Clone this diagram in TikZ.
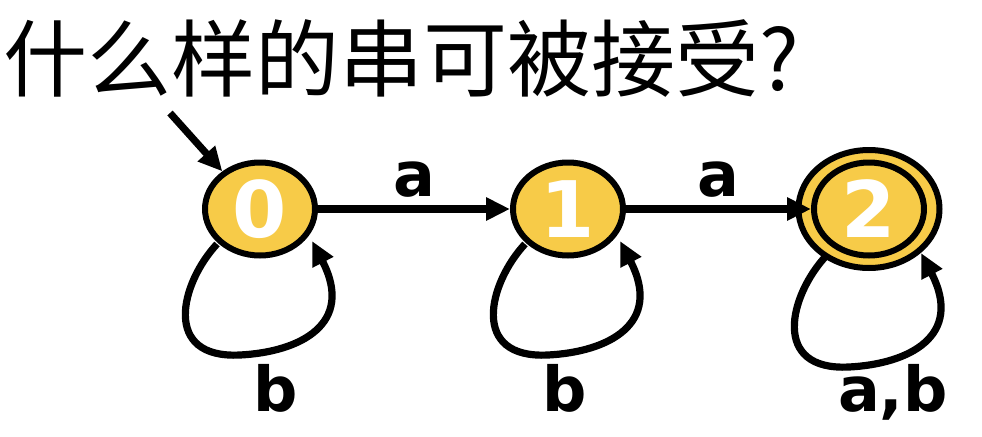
\documentclass[tikz,border=0pt]{standalone}
\usepackage{fontspec}
\setmainfont{DejaVu Sans}
\newfontfamily\cjk{Noto Sans CJK SC}
\usetikzlibrary{shapes.geometric,arrows.meta}
\definecolor{stategold}{RGB}{247,203,72}
\begin{document}
\begin{tikzpicture}[x=0.5pt,y=0.5pt,
        >={Triangle[length=12pt,width=11pt]},
        state/.style={draw,ellipse,line width=3pt,fill=stategold,minimum width=55pt,minimum height=46.5pt,inner sep=0pt,text=white,font=\fontsize{39}{39}\selectfont\bfseries},
        edge/.style={line width=3.6pt,->},
        sym/.style={inner sep=0pt,font=\fontsize{31}{31}\selectfont\bfseries}]
    \useasboundingbox (0,0) rectangle (982,436);
    \node[anchor=west,inner sep=0pt,font=\cjk\fontsize{42}{42}\selectfont] (title) at (3,378) {什么样的串可被接受?};

    \coordinate (start) at (170,323);
    \node[state,minimum width=70.5pt,minimum height=59pt] (ring) at (869,227) {};
    \node[state] (s0) at (260,227) {0};
    \node[state] (s1) at (568,227) {1};
    \node[state] (s2) at (869,227) {2};

    \draw[edge] (start) -- (s0.135);
    \draw[edge] (s0) -- node[above=4pt,sym] (a01) {a} (s1);
    \draw[edge] (s1) -- node[above=4pt,sym] (a12) {a} (s2);

    % self loops below each state
    \foreach \s/\dy in {s0/0,s1/0,s2/-12}
        \draw[edge] ([shift={(-43,-35+\dy)}]\s.center)
            .. controls ([shift={(-80,-75+\dy)}]\s.center) and ([shift={(-98,-150+\dy)}]\s.center) .. ([shift={(-20,-146+\dy)}]\s.center)
            .. controls ([shift={(40,-143+\dy)}]\s.center) and ([shift={(95,-115+\dy)}]\s.center) .. ([shift={(52,-32+\dy)}]\s.center);

    \node[sym,anchor=base] (b0) at (276,25) {b};
    \node[sym,anchor=base] (b1) at (565,25) {b};
    \node[sym,anchor=base] (ab2) at (893,25) {a,b};
\end{tikzpicture}
\end{document}
